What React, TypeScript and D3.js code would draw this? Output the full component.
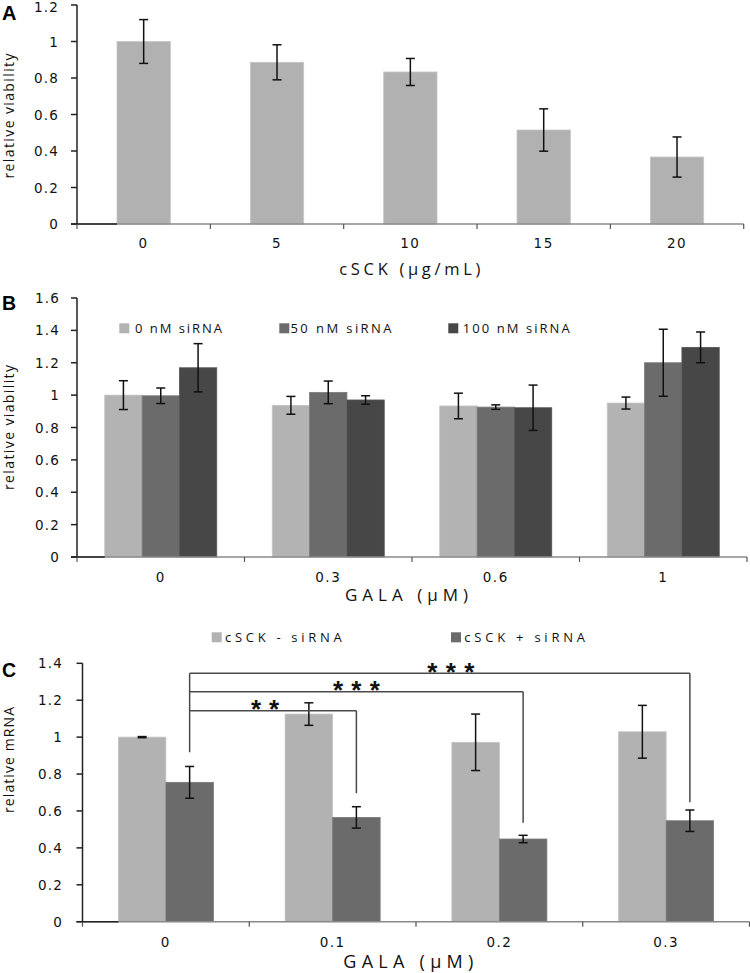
import React from "react";
import * as d3 from "d3";

// ---------- Data ----------
const catsA = ["0", "5", "10", "15", "20"];
const valsA = [1.0, 0.886, 0.833, 0.515, 0.367];
const errA = [0.12, 0.096, 0.074, 0.116, 0.11];
const ticksA = [0, 0.2, 0.4, 0.6, 0.8, 1, 1.2];

const catsB = ["0", "0.3", "0.6", "1"];
const seriesB = ["0 nM siRNA", "50 nM siRNA", "100 nM siRNA"];
const valsB0 = [1.0, 0.937, 0.933, 0.951];
const errB0 = [0.089, 0.055, 0.079, 0.037];
const valsB50 = [0.996, 1.017, 0.926, 1.2];
const errB50 = [0.048, 0.07, 0.014, 0.207];
const valsB100 = [1.169, 0.97, 0.922, 1.295];
const errB100 = [0.149, 0.026, 0.14, 0.095];
const ticksB = [0, 0.2, 0.4, 0.6, 0.8, 1, 1.2, 1.4, 1.6];

const catsC = ["0", "0.1", "0.2", "0.3"];
const seriesC = ["cSCK - siRNA", "cSCK + siRNA"];
const valsCminus = [1.0, 1.125, 0.972, 1.029];
const errCminus = [0.003, 0.061, 0.153, 0.143];
const valsCplus = [0.755, 0.565, 0.448, 0.547];
const errCplus = [0.086, 0.058, 0.02, 0.058];
const ticksC = [0, 0.2, 0.4, 0.6, 0.8, 1, 1.2, 1.4];

const sigTargets = [1, 2, 3];
const sigLabels = ["**", "***", "***"];
const sigLevels = [1.143, 1.246, 1.346];
const sigEnds = [0.696, 0.536, 0.647];
const sigStart = 0.918;

// ---------- Styles ----------
const LIGHT = "#b1b1b1";
const MID = "#6b6b6b";
const DARK = "#474747";
const TICKFONT = "'DejaVu Sans', Verdana, sans-serif";
const TEXTFONT = "'Open Sans', 'Liberation Sans', sans-serif";
const STAR_OFFSETS = [-8, 0, 11];

type Series = { vals: number[]; errs: number[]; color: string; stroke: string };

function Panel(props: {
  cats: string[];
  series: Series[];
  ticks: number[];
  yMax: number;
  x0: number;
  x1: number;
  yTop: number;
  yBottom: number;
  groupFrac: number;
  labelRight: number;
  xLabelY: number;
  extra?: (x: d3.ScaleBand<string>, inner: d3.ScaleBand<string>, y: d3.ScaleLinear<number, number>) => React.ReactNode;
}) {
  const { cats, series, ticks, yMax, x0, x1, yTop, yBottom, groupFrac, labelRight, xLabelY } = props;
  const x = d3.scaleBand<string>().domain(cats).range([x0, x1]).padding(0);
  const y = d3.scaleLinear().domain([0, yMax]).range([yBottom, yTop]);
  const bw = x.bandwidth();
  const gw = bw * groupFrac;
  const inner = d3
    .scaleBand<string>()
    .domain(series.map((_, i) => String(i)))
    .range([0, gw])
    .padding(0);
  const firstLeft = (x(cats[0]) as number) + (bw - gw) / 2;
  const boundaries = cats.map((c) => x(c) as number).concat([x1]);
  return (
    <g>
      {series.map((s, si) =>
        cats.map((c, ci) => {
          const bx = (x(c) as number) + (bw - gw) / 2 + (inner(String(si)) as number);
          const v = s.vals[ci];
          return (
            <rect
              key={`b${si}-${ci}`}
              x={bx}
              y={y(v)}
              width={inner.bandwidth()}
              height={y(0) - y(v)}
              fill={s.color}
              stroke={s.stroke}
              strokeWidth={0.8}
            />
          );
        })
      )}
      <line x1={x0} x2={x1} y1={y(0)} y2={y(0)} stroke="#8a8a8a" strokeWidth={1.5} />
      <line x1={x0 - 6} x2={firstLeft} y1={y(0)} y2={y(0)} stroke="#222" strokeWidth={1.5} />
      {boundaries.map((bx, i) => (
        <line key={`xt${i}`} x1={bx} x2={bx} y1={y(0)} y2={y(0) + 5} stroke="#555" strokeWidth={1.2} />
      ))}
      {cats.map((c) => (
        <text
          key={`xl${c}`}
          x={(x(c) as number) + bw / 2}
          y={xLabelY}
          textAnchor="middle"
          fontFamily={TICKFONT}
          fontSize={13.5}
          letterSpacing={1.5}
          fill="#111"
        >
          {c}
        </text>
      ))}
      <line x1={x0} x2={x0} y1={y(0)} y2={y(yMax)} stroke="#222" strokeWidth={1.5} />
      {ticks.map((t) => (
        <g key={`yt${t}`}>
          <line x1={x0 - 6} x2={x0} y1={y(t)} y2={y(t)} stroke="#222" strokeWidth={1.5} />
          <text
            x={labelRight}
            y={Math.max(y(t) + 5, 12)}
            textAnchor="end"
            fontFamily={TICKFONT}
            fontSize={13.5}
            letterSpacing={1.2}
            fill="#111"
          >
            {String(t)}
          </text>
        </g>
      ))}
      {series.map((s, si) =>
        cats.map((c, ci) => {
          const cx = (x(c) as number) + (bw - gw) / 2 + (inner(String(si)) as number) + inner.bandwidth() / 2;
          const v = s.vals[ci];
          const e = s.errs[ci];
          return (
            <g key={`e${si}-${ci}`} stroke="#111" strokeWidth={1.5}>
              <line x1={cx} x2={cx} y1={y(v + e)} y2={y(v - e)} />
              <line x1={cx - 4.5} x2={cx + 4.5} y1={y(v + e)} y2={y(v + e)} />
              <line x1={cx - 4.5} x2={cx + 4.5} y1={y(v - e)} y2={y(v - e)} />
            </g>
          );
        })
      )}
      {props.extra ? props.extra(x, inner, y) : null}
    </g>
  );
}

export default function App() {
  const seriesA: Series[] = [{ vals: valsA, errs: errA, color: LIGHT, stroke: "#c6c6c6" }];
  const seriesBList: Series[] = [
    { vals: valsB0, errs: errB0, color: "#b3b3b3", stroke: "#c4c4c4" },
    { vals: valsB50, errs: errB50, color: MID, stroke: "#7a7a7a" },
    { vals: valsB100, errs: errB100, color: DARK, stroke: "#555" },
  ];
  const seriesCList: Series[] = [
    { vals: valsCminus, errs: errCminus, color: "#b2b2b2", stroke: "#c4c4c4" },
    { vals: valsCplus, errs: errCplus, color: MID, stroke: "#7a7a7a" },
  ];
  const legendB = [
    { sx: 119.3, tx: 135, len: 87, color: "#b3b3b3" },
    { sx: 279.3, tx: 290.5, len: 101, color: MID },
    { sx: 448.3, tx: 462.7, len: 107, color: DARK },
  ];
  const legendC = [
    { sx: 211.7, tx: 225, len: 116.7, color: "#b2b2b2" },
    { sx: 451, tx: 464.3, len: 120.7, color: MID },
  ];
  return (
    <svg width={750} height={973} style={{ display: "block", position: "absolute", left: 0, top: 0, background: "#fff" }}>
      <rect x={0} y={0} width={750} height={973} fill="#fff" />
      {/* Panel A */}
      <text x={2} y={19.5} fontFamily="'Liberation Sans', Arial, sans-serif" fontWeight="bold" fontSize={20}>A</text>
      <text transform="translate(14,116) rotate(-90)" textAnchor="middle" fontFamily={TEXTFONT} fontSize={14} textLength={125} lengthAdjust="spacing" fill="#111">relative viability</text>
      <Panel
        cats={catsA}
        series={seriesA}
        ticks={ticksA}
        yMax={1.2}
        x0={77}
        x1={743.7}
        yTop={5}
        yBottom={224}
        groupFrac={0.4}
        labelRight={59}
        xLabelY={248}
      />
      <text x={339.3} y={275} fontFamily={TEXTFONT} fontSize={16.5} textLength={141} lengthAdjust="spacing" fill="#111">cSCK (µg/mL)</text>

      {/* Panel B */}
      <text x={2} y={310} fontFamily="'Liberation Sans', Arial, sans-serif" fontWeight="bold" fontSize={19.5}>B</text>
      <text transform="translate(14,427.5) rotate(-90)" textAnchor="middle" fontFamily={TEXTFONT} fontSize={14} textLength={125} lengthAdjust="spacing" fill="#111">relative viability</text>
      <Panel
        cats={catsB}
        series={seriesBList}
        ticks={ticksB}
        yMax={1.6}
        x0={77}
        x1={747}
        yTop={298}
        yBottom={557}
        groupFrac={112 / 167.5}
        labelRight={60}
        xLabelY={582}
      />
      {seriesB.map((s, i) => (
        <g key={`lb${i}`}>
          <rect x={legendB[i].sx} y={323.3} width={10} height={10} fill={legendB[i].color} />
          <text x={legendB[i].tx} y={333} fontFamily={TEXTFONT} fontSize={13} textLength={legendB[i].len} lengthAdjust="spacing" fill="#111">{s}</text>
        </g>
      ))}
      <text x={345} y={601} fontFamily={TEXTFONT} fontSize={17} textLength={123} lengthAdjust="spacing" fill="#111">GALA (µM)</text>

      {/* Panel C */}
      <text x={2} y={677} fontFamily="'Liberation Sans', Arial, sans-serif" fontWeight="bold" fontSize={19.5}>C</text>
      <text transform="translate(14,760) rotate(-90)" textAnchor="middle" fontFamily={TEXTFONT} fontSize={14} textLength={106} lengthAdjust="spacing" fill="#111">relative mRNA</text>
      {seriesC.map((s, i) => (
        <g key={`lc${i}`}>
          <rect x={legendC[i].sx} y={632.3} width={10} height={10} fill={legendC[i].color} />
          <text x={legendC[i].tx} y={642} fontFamily={TEXTFONT} fontSize={13} textLength={legendC[i].len} lengthAdjust="spacing" fill="#111">{s}</text>
        </g>
      ))}
      <Panel
        cats={catsC}
        series={seriesCList}
        ticks={ticksC}
        yMax={1.4}
        x0={82.5}
        x1={749.5}
        yTop={663.3}
        yBottom={921.7}
        groupFrac={95 / 166.7}
        labelRight={63}
        xLabelY={947}
        extra={(x, inner, y) => {
          const bw = x.bandwidth();
          const gw = inner.range()[1];
          const cxOf = (ci: number) =>
            (x(catsC[ci]) as number) + (bw - gw) / 2 + (inner("1") as number) + inner.bandwidth() / 2;
          const sx = cxOf(0);
          const topLevel = d3.max(sigLevels) as number;
          return (
            <g stroke="#4a4a4a" strokeWidth={1.5} fill="none">
              <line x1={sx} x2={sx} y1={y(sigStart)} y2={y(topLevel)} />
              {sigTargets.map((t, i) => {
                const tx = cxOf(t);
                const ly = y(sigLevels[i]);
                const stars = sigLabels[i];
                return (
                  <g key={`sig${i}`}>
                    <line x1={sx} x2={tx} y1={ly} y2={ly} />
                    <line x1={tx} x2={tx} y1={ly} y2={y(sigEnds[i])} />
                    <text
                      x={(sx + tx) / 2 + STAR_OFFSETS[i]}
                      y={ly + 7.5}
                      textAnchor="middle"
                      fontFamily="'Liberation Sans', Arial, sans-serif"
                      fontWeight="bold"
                      fontSize={26}
                      stroke="none"
                      fill="#111"
                      textLength={stars.length === 2 ? 28 : 47}
                      lengthAdjust="spacing"
                    >
                      {stars}
                    </text>
                  </g>
                );
              })}
            </g>
          );
        }}
      />
      <text x={343.3} y={967.5} fontFamily={TEXTFONT} fontSize={18} textLength={130} lengthAdjust="spacing" fill="#111">GALA (µM)</text>
    </svg>
  );
}
